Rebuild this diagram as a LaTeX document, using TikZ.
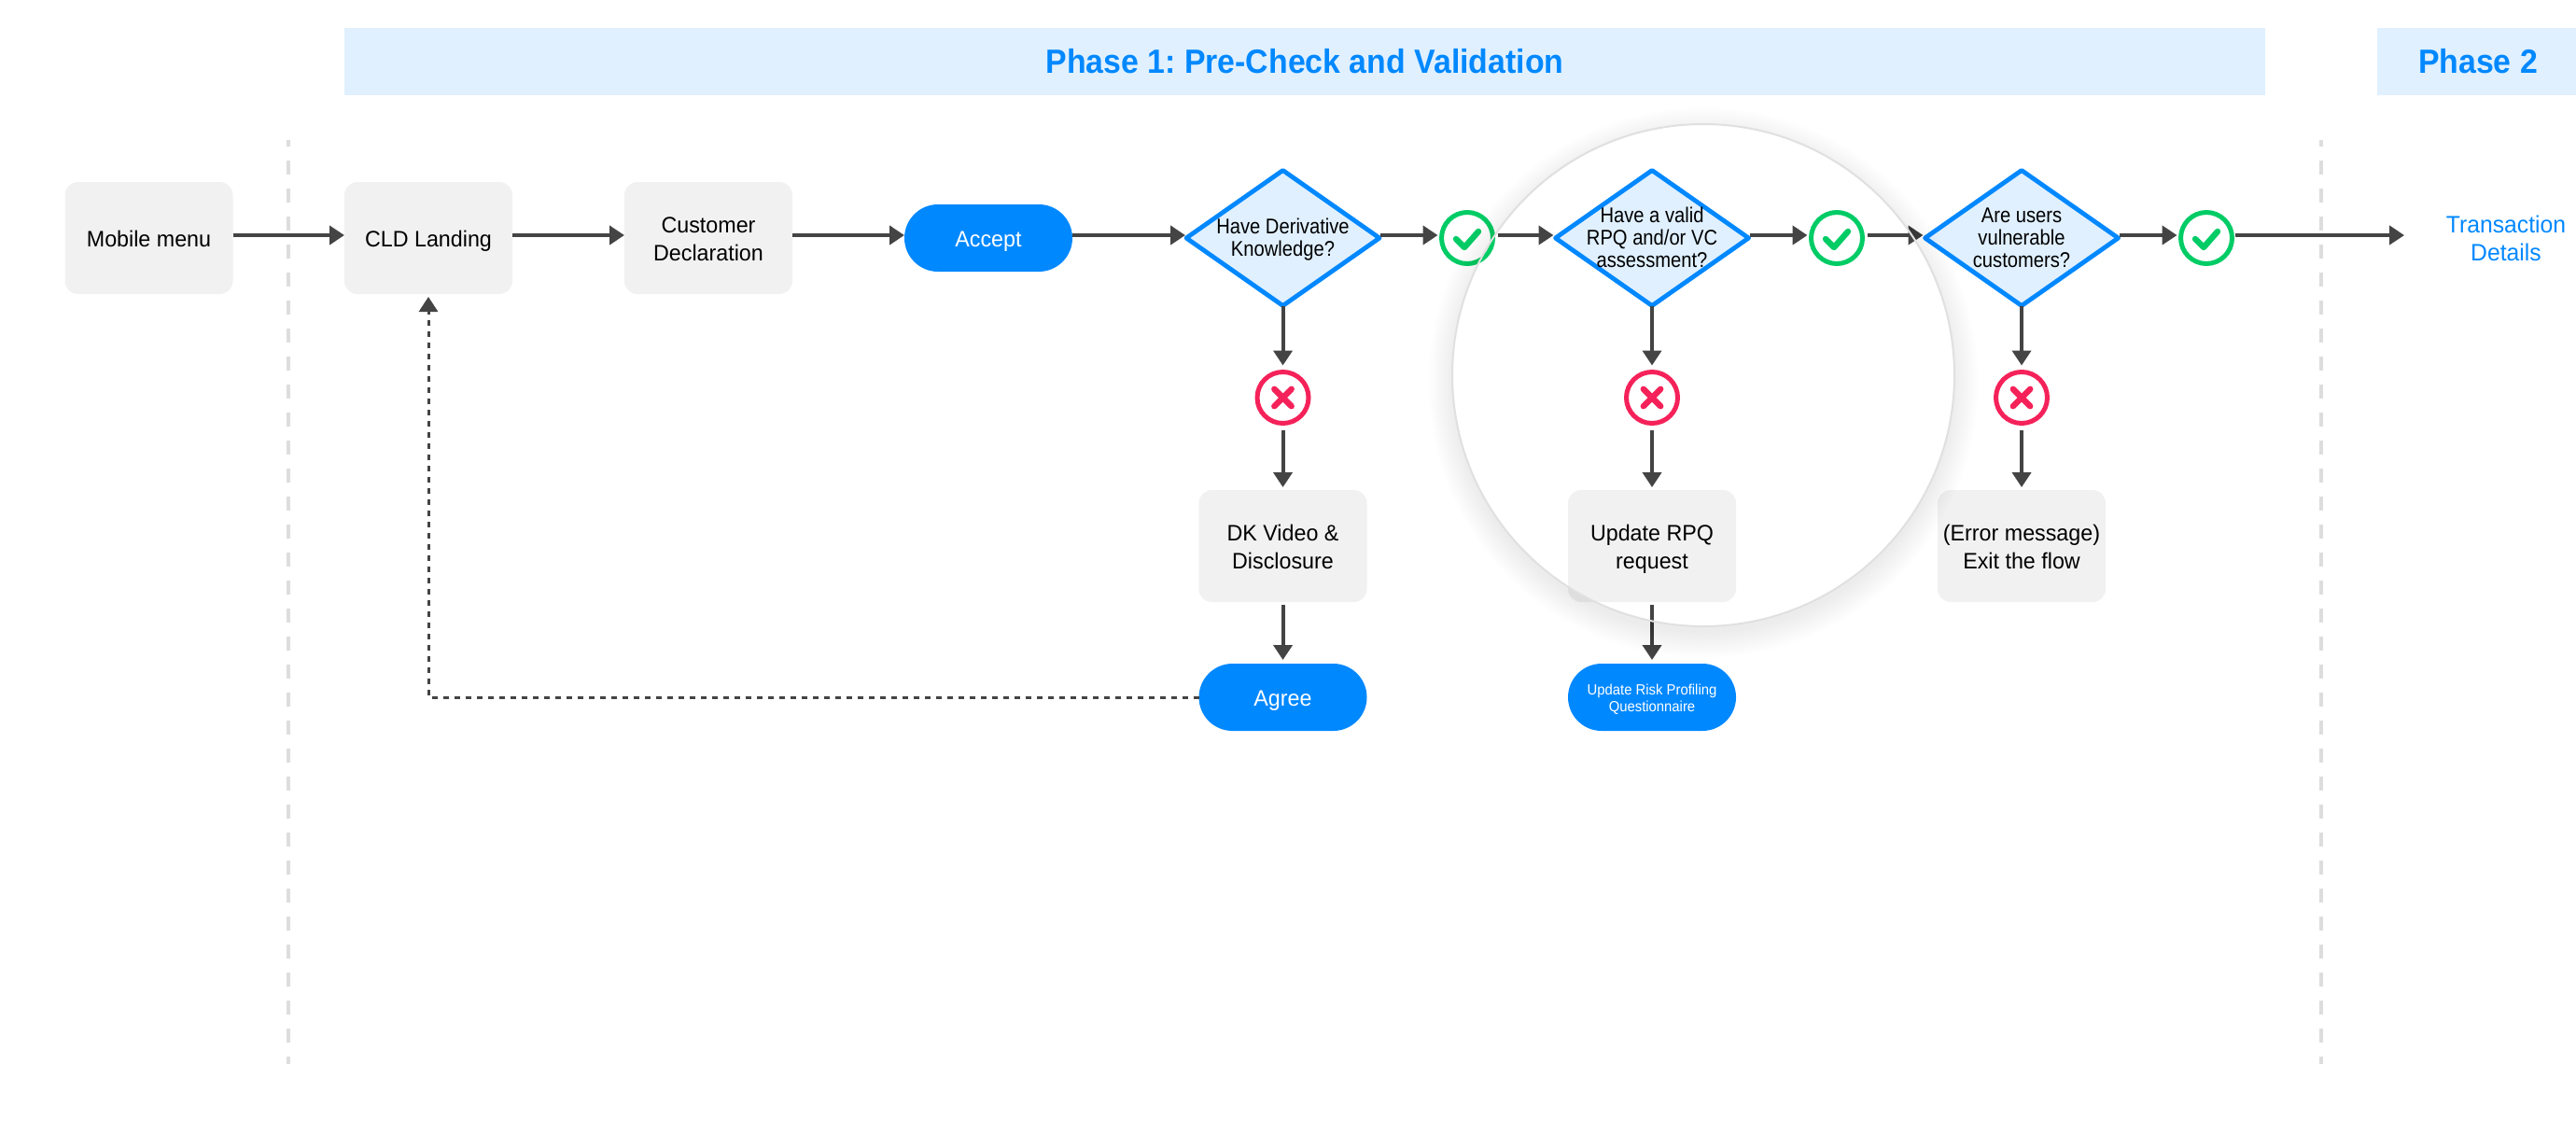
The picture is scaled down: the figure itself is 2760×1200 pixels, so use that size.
\documentclass[tikz,border=0pt]{standalone}
\usepackage{fontspec}
\setmainfont[FakeStretch=0.97]{Liberation Sans}
\newfontfamily\bandfont[FakeStretch=0.94]{Liberation Sans}
\newfontfamily\dfont[FakeStretch=0.885]{Liberation Sans}
\usetikzlibrary{arrows.meta,shapes.geometric}
\frenchspacing
\lineskiplimit=-5pt
\newcommand\ys{\vrule height 12pt depth 3pt width 0pt }
\newcommand\yd{\vrule height 9.8pt depth 2.2pt width 0pt }
\newcommand\yt{\vrule height 8pt depth 1pt width 0pt }
\definecolor{blueA}{HTML}{0088FF}
\definecolor{paleB}{HTML}{E0F0FF}
\definecolor{boxG}{HTML}{F1F1F1}
\definecolor{darkL}{HTML}{444444}
\definecolor{greenC}{HTML}{00CC66}
\definecolor{redC}{HTML}{F5225A}
\definecolor{guideG}{HTML}{DDDDDD}
\tikzset{
  every node/.style={inner sep=0pt,outer sep=0pt,align=center},
  boxnode/.style={fill=boxG,rounded corners=7pt,minimum width=90pt,minimum height=60pt,font=\fontsize{12}{15}\selectfont,text=black},
  pillnode/.style={fill=blueA,rounded corners=18pt,minimum width=90pt,minimum height=36pt,font=\fontsize{12}{15}\selectfont,text=white},
  decide/.style={diamond,draw=blueA,line width=2.4pt,fill=paleB,line join=round,minimum width=103.5pt,minimum height=72.5pt},
  dtext/.style={font=\dfont\fontsize{11.4}{12}\selectfont,text=black},
  okmark/.style={circle,draw=greenC,fill=white,line width=2.5pt,minimum size=27.5pt,
    path picture={\draw[greenC,line width=3.2pt,line cap=round,line join=round]
      ([shift={(-6pt,-0.5pt)}]path picture bounding box.center) -- ++(4.5pt,-4.5pt) -- ++(7.5pt,8.5pt);}},
  nomark/.style={circle,draw=redC,fill=white,line width=2.5pt,minimum size=27.5pt,
    path picture={\draw[redC,line width=3.2pt,line cap=round]
      ([shift={(-4.6pt,-4.6pt)}]path picture bounding box.center) -- ++(9.2pt,9.2pt)
      ([shift={(-4.6pt,4.6pt)}]path picture bounding box.center) -- ++(9.2pt,-9.2pt);}},
  flow/.style={draw=darkL,line width=2pt,-{Triangle[length=8pt,width=10pt]}},
  backflow/.style={draw=darkL,line width=1.5pt,dash pattern=on 3pt off 3pt,-{Triangle[length=8pt,width=10pt]}},
  guide/.style={draw=guideG,line width=1.8pt,dash pattern=on 7.5pt off 7.5pt,dash phase=4pt},
  band/.style={fill=paleB,minimum height=36pt,font=\bandfont\bfseries\fontsize{18}{22}\selectfont,text=blueA}
}
\begin{document}
\begin{tikzpicture}[x=0.5pt,y=-0.5pt]
\useasboundingbox (0,0) rectangle (2760,1200);
\fill[white] (0,0) rectangle (2760,1200);
% bands
\node[band,minimum width=1029pt] (ph1) at (1398,66) {Phase 1: Pre-Check and Validation};
\node[band,minimum width=108pt] (ph2) at (2655,66) {Phase 2};
% guides
\coordinate (g1t) at (309,150); \coordinate (g1b) at (309,1140);
\coordinate (g2t) at (2487,150); \coordinate (g2b) at (2487,1140);
\draw[guide] (g1t) -- (g1b);
\draw[guide] (g2t) -- (g2b);
% nodes
\node[boxnode] (menu) at (159.5,255) {\ys Mobile menu};
\node[boxnode] (cld) at (459,255) {\ys CLD Landing};
\node[boxnode] (decl) at (759,255) {\ys Customer\\\ys Declaration};
\node[pillnode] (accept) at (1059,255) {\ys Accept};
\node[decide,label={[dtext]center:\yd Have Derivative\\\yd Knowledge?}] (d1) at (1374.5,255) {};
\node[decide,label={[dtext]center:\yd Have a valid\\\yd RPQ and/or VC\\\yd assessment?}] (d2) at (1770,255) {};
\node[decide,label={[dtext]center:\yd Are users\\\yd vulnerable\\\yd customers?}] (d3) at (2166,255) {};
\node[okmark] (ok1) at (1572,255) {};
\node[okmark] (ok2) at (1968,255) {};
\node[okmark] (ok3) at (2364,255) {};
\node[nomark] (no1) at (1374.5,426) {};
\node[nomark] (no2) at (1770,426) {};
\node[nomark] (no3) at (2166,426) {};
\node[boxnode] (dk) at (1374.5,585) {\ys DK Video \&\\\ys Disclosure};
\node[boxnode] (rpq) at (1770,585) {\ys Update RPQ\\\ys request};
\node[boxnode] (err) at (2166,585) {\ys (Error message)\\\ys Exit the flow};
\node[pillnode] (agree) at (1374.5,747) {\ys Agree};
\node[pillnode,font=\bandfont\fontsize{7.9}{9}\selectfont] (urp) at (1770,747) {\yt Update Risk Profiling\\\yt Questionnaire};
\node[font=\fontsize{12.75}{15}\selectfont,text=blueA] (txn) at (2685,255) {\ys Transaction\\\ys Details};
\coordinate (txin) at (2576,252);
% horizontal connectors
\begin{scope}[every path/.append style={flow}]
\draw ([yshift=1.5pt]menu.east) -- ([yshift=1.5pt]cld.west);
\draw ([yshift=1.5pt]cld.east) -- ([yshift=1.5pt]decl.west);
\draw ([yshift=1.5pt]decl.east) -- ([yshift=1.5pt]accept.west);
\draw ([yshift=1.5pt]accept.east) -- ([yshift=1.5pt,xshift=-0.5pt]d1.west);
\draw[shorten <=0.5pt,shorten >=2pt] ([yshift=1.5pt]d1.east) -- ([yshift=1.5pt]ok1.west);
\draw[shorten <=2.5pt,shorten >=1pt] ([yshift=1.5pt]ok1.east) -- ([yshift=1.5pt]d2.west);
\draw[shorten <=0.5pt,shorten >=2pt] ([yshift=1.5pt]d2.east) -- ([yshift=1.5pt]ok2.west);
\draw[shorten <=2.5pt,shorten >=1pt] ([yshift=1.5pt]ok2.east) -- ([yshift=1.5pt]d3.west);
\draw[shorten <=0.5pt,shorten >=2pt] ([yshift=1.5pt]d3.east) -- ([yshift=1.5pt]ok3.west);
\draw[shorten <=1.5pt] ([yshift=1.5pt]ok3.east) -- (txin);
% vertical connectors
\draw[shorten >=3.5pt] (d1.south) -- (no1.north);
\draw[shorten >=3.5pt] (d2.south) -- (no2.north);
\draw[shorten >=3.5pt] (d3.south) -- (no3.north);
\draw[shorten <=3.5pt,shorten >=1.5pt] (no1.south) -- (dk.north);
\draw[shorten <=3.5pt,shorten >=1.5pt] (no2.south) -- (rpq.north);
\draw[shorten <=3.5pt,shorten >=1.5pt] (no3.south) -- (err.north);
\draw[shorten <=1.5pt,shorten >=2pt] (dk.south) -- (agree.north);
\draw[shorten <=1.5pt,shorten >=2pt] (rpq.south) -- (urp.north);
\end{scope}
\draw[backflow,shorten >=1.5pt] (agree.west) -| (cld.south);
% lens with soft shadow
\begin{scope}[even odd rule]
\clip (0,0) rectangle (2760,1200) (1825,402) circle [radius=134.5pt];
\foreach \r in {134,134.75,...,148} {\fill[black,opacity=0.0035] (1825,410) circle [radius=\r pt];}
\end{scope}
\coordinate (lens) at (1825,402);
\draw[draw=black!12,line width=1pt] (lens) circle [radius=134.5pt];
\end{tikzpicture}
\end{document}
